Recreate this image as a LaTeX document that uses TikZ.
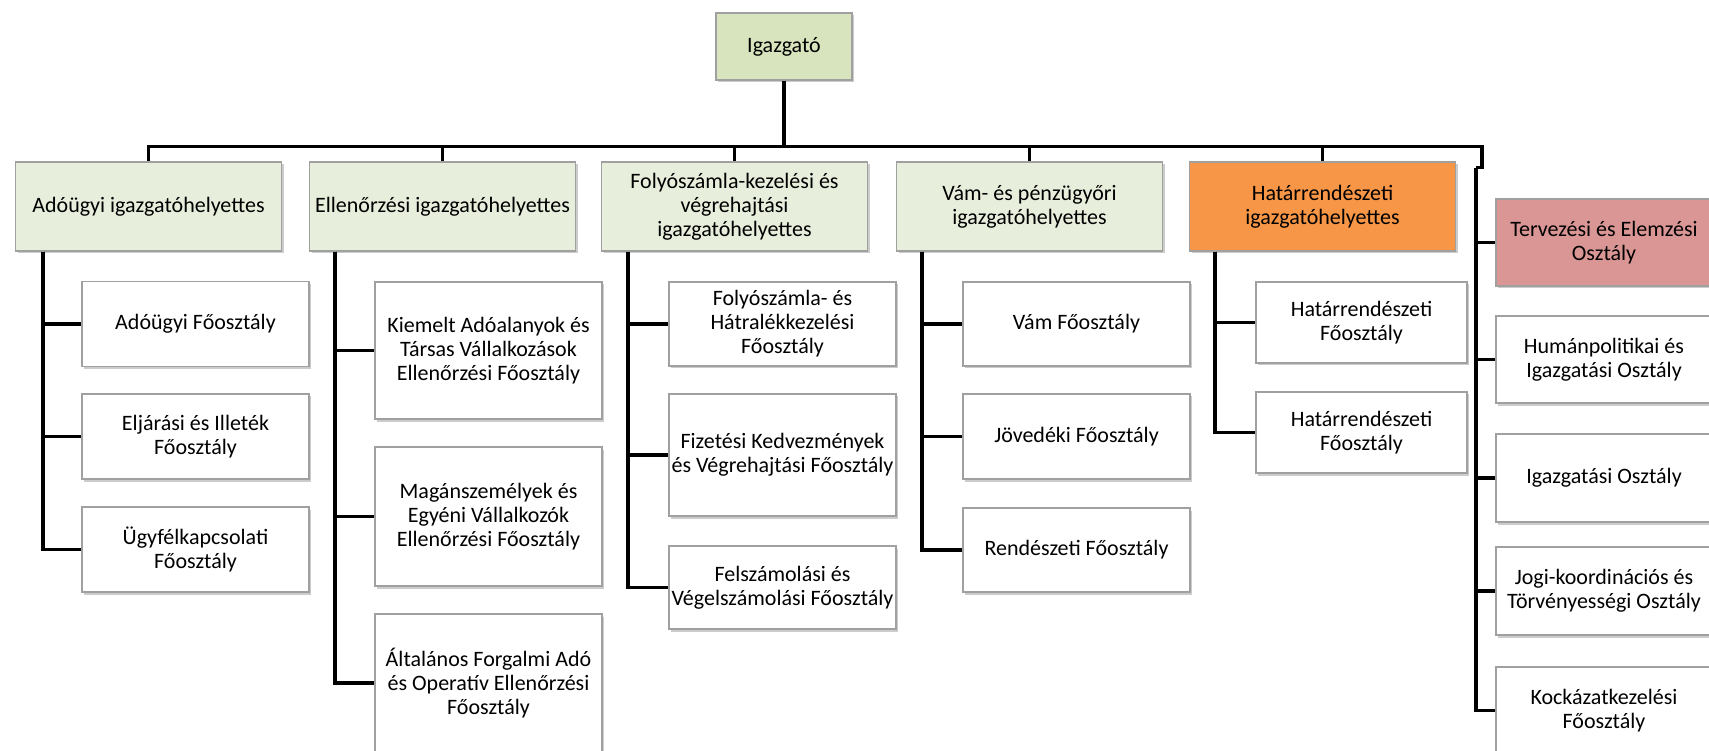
\documentclass[tikz,border=0pt]{standalone}
\usepackage{fontspec}
\setmainfont{Carlito}
\usetikzlibrary{shadows,calc}

\definecolor{dirgreen}{HTML}{D7E4BD}
\definecolor{depgreen}{HTML}{E8EEDC}
\definecolor{hatorange}{HTML}{F79646}
\definecolor{tervpink}{HTML}{D99694}
\definecolor{boxgray}{HTML}{A0A0A0}

\tikzset{
  box/.style={draw=boxgray, line width=1.2pt, align=center, inner sep=1pt,
    font=\fontsize{22}{24}\selectfont,
    drop shadow={shadow xshift=2pt, shadow yshift=-2.5pt, opacity=0.4}},
  dep/.style={box, fill=depgreen, minimum width=266pt, minimum height=89pt},
  sub/.style={box, fill=white, minimum width=227pt},
  side/.style={box, fill=white, minimum width=216pt},
  conn/.style={line width=3.5pt, black},
}

\begin{document}
\begin{tikzpicture}[x=1pt, y=-1pt]
\useasboundingbox (0,0) rectangle (1709,751);

% top
\node[box, fill=dirgreen, minimum width=136pt, minimum height=67pt] (igazgato) at (784,46.5) {Igazgató};

% deputies
\node[dep] (adougyi) at (148.5,206.5) {Adóügyi igazgatóhelyettes};
\node[dep] (ellenorzes) at (442.5,206.5) {Ellenőrzési igazgatóhelyettes};
\node[dep] (folyoszamla) at (734.5,206.5) {Folyószámla-kezelési és\\ végrehajtási\\ igazgatóhelyettes};
\node[dep] (vam) at (1029.5,206.5) {Vám- és pénzügyőri\\ igazgatóhelyettes};
\node[dep, fill=hatorange] (hatar) at (1322.5,206.5) {Határrendészeti\\ igazgatóhelyettes};

% departments
\node[sub, minimum height=85pt] (adofo) at (195.5,324) {Adóügyi Főosztály};
\node[sub, minimum height=85pt] (eljarasi) at (195.5,436.5) {Eljárási és Illeték\\ Főosztály};
\node[sub, minimum height=85pt] (ugyfel) at (195.5,549.5) {Ügyfélkapcsolati\\ Főosztály};

\node[sub, minimum height=137pt] (kiemelt) at (488.5,350.5) {Kiemelt Adóalanyok és\\ Társas Vállalkozások\\ Ellenőrzési Főosztály};
\node[sub, minimum height=139pt] (magan) at (488.5,516.5) {Magánszemélyek és\\ Egyéni Vállalkozók\\ Ellenőrzési Főosztály};
\node[sub, minimum height=138pt] (altalanos) at (488.5,683) {Általános Forgalmi Adó\\ és Operatív Ellenőrzési\\ Főosztály};

\node[sub, minimum height=84pt] (folyofo) at (782.5,324) {Folyószámla- és\\ Hátralékkezelési\\ Főosztály};
\node[sub, minimum height=122pt] (fizetesi) at (782.5,455) {Fizetési Kedvezmények\\ és Végrehajtási Főosztály};
\node[sub, minimum height=83pt] (felszamolas) at (782.5,587.5) {Felszámolási és\\ Végelszámolási Főosztály};

\node[sub, minimum height=84pt] (vamfo) at (1076.5,324) {Vám Főosztály};
\node[sub, minimum height=85pt] (jovedeki) at (1076.5,436.5) {Jövedéki Főosztály};
\node[sub, minimum height=84pt] (rendeszeti) at (1076.5,550) {Rendészeti Főosztály};

\node[sub, minimum width=211pt, minimum height=81pt] (hatarfo) at (1361.5,322.5) {Határrendészeti\\ Főosztály};
\node[sub, minimum width=211pt, minimum height=81pt] (hatarfob) at (1361.5,432.5) {Határrendészeti\\ Főosztály};

% directly under the director
\node[side, fill=tervpink, minimum height=87pt] (tervezes) at (1604,242.5) {Tervezési és Elemzési\\ Osztály};
\node[side, minimum height=87pt] (human) at (1604,359.5) {Humánpolitikai és\\ Igazgatási Osztály};
\node[side, minimum height=88pt] (igazgatasi) at (1604,478) {Igazgatási Osztály};
\node[side, minimum height=88pt] (jogi) at (1604,591) {Jogi-koordinációs és\\ Törvényességi Osztály};
\node[side, minimum height=87pt] (kockazat) at (1604,710.5) {Kockázatkezelési\\ Főosztály};

% bus
\draw[conn] (igazgato.south) -- ++(0,66) coordinate (hub);
\draw[conn] (hub) -| (adougyi.north);
\draw[conn] (hub) -| (ellenorzes.north);
\draw[conn] (hub) -| (folyoszamla.north);
\draw[conn] (hub) -| (vam.north);
\draw[conn] (hub) -| (hatar.north);
\draw[conn] (hub) -| ++(698,21) -- ++(-6,0) coordinate (t6);

% trunks
\coordinate (t1) at ([xshift=28pt]adougyi.south west);
\coordinate (t2) at ([xshift=26pt]ellenorzes.south west);
\coordinate (t3) at ([xshift=27pt]folyoszamla.south west);
\coordinate (t4) at ([xshift=26pt]vam.south west);
\coordinate (t5) at ([xshift=26pt]hatar.south west);

\draw[conn] (t1) |- (adofo.west);
\draw[conn] (t1) |- (eljarasi.west);
\draw[conn] (t1) |- (ugyfel.west);

\draw[conn] (t2) |- (kiemelt.west);
\draw[conn] (t2) |- (magan.west);
\draw[conn] (t2) |- (altalanos.west);

\draw[conn] (t3) |- (folyofo.west);
\draw[conn] (t3) |- (fizetesi.west);
\draw[conn] (t3) |- (felszamolas.west);

\draw[conn] (t4) |- (vamfo.west);
\draw[conn] (t4) |- (jovedeki.west);
\draw[conn] (t4) |- (rendeszeti.west);

\draw[conn] (t5) |- (hatarfo.west);
\draw[conn] (t5) |- (hatarfob.west);

\draw[conn] (t6) |- (tervezes.west);
\draw[conn] (t6) |- (human.west);
\draw[conn] (t6) |- (igazgatasi.west);
\draw[conn] (t6) |- (jogi.west);
\draw[conn] (t6) |- (kockazat.west);

\end{tikzpicture}
\end{document}
